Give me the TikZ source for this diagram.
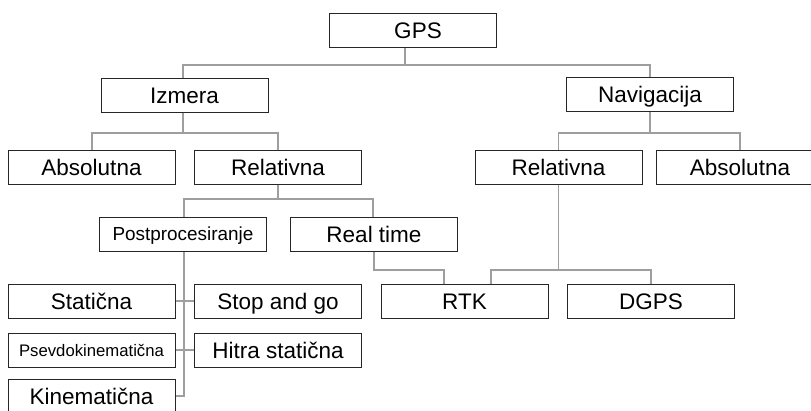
\documentclass[tikz,border=0pt]{standalone}
\usepackage{fontspec}
\setmainfont{Liberation Sans}
\begin{document}
\begin{tikzpicture}[x=1pt,y=-1pt,
  box/.style={draw=black!85,line width=1pt,minimum width=167pt,minimum height=34pt,
    inner sep=0pt,text height=16pt,text depth=0pt,font=\fontsize{22.5}{27}\selectfont},
  conn/.style={draw=black!38,line width=1.1pt}]
\useasboundingbox (0,0) rectangle (811,410);
\node[box] (GPS) at (412.5,30) {\hspace{11pt}GPS};
\node[box] (Izm) at (184.5,95) {Izmera};
\node[box] (Nav) at (650,94.5) {Navigacija\hspace{19pt}};
\node[box] (AbsL) at (91.5,167) {Absolutna};
\node[box] (RelL) at (278,167) {Relativna};
\node[box] (RelR) at (558.5,167) {Relativna};
\node[box] (AbsR) at (740,167) {Absolutna};
\node[box,font=\fontsize{18.9}{22}\selectfont,text height=13.5pt] (Post) at (183,234) {Postprocesiranje};
\node[box] (Real) at (374,234) {Real time};
\node[box] (Stat) at (91.5,301) {Statična};
\node[box] (Stop) at (278,301) {Stop and go};
\node[box] (RTK) at (464.5,301) {RTK};
\node[box] (DGPS) at (651,301) {DGPS};
\node[box,font=\fontsize{16.7}{20}\selectfont,text height=12pt] (Psev) at (91.5,350) {Psevdokinematična};
\node[box] (Hit) at (278,350) {Hitra statična};
\node[box] (Kin) at (91.5,396) {Kinematična};
% connectors
\coordinate (b1) at (405,65);
\draw[conn] (b1 |- GPS.south) -- (b1);
\draw[conn] (Izm.north -| 183,0) |- (b1) -| (Nav.north);
\coordinate (b2) at (183,133);
\draw[conn] (b2 |- Izm.south) -- (b2);
\draw[conn] ([xshift=0.5pt]AbsL.north) |- (b2) -| (RelL.north);
\coordinate (b3) at (650,133);
\draw[conn] (Nav.south) -- (b3);
\draw[conn] (RelR.north) |- (b3) -| (AbsR.north);
\coordinate (b4) at (278,199);
\draw[conn] (RelL.south) -- (b4);
\draw[conn] ([xshift=1pt]Post.north) |- (b4) -| ([xshift=-1pt]Real.north);
\draw[conn] ([xshift=1pt]Post.south) |- (Kin.east);
\draw[conn] (Stat.east) -- (Stop.west);
\draw[conn] (Psev.east) -- (Hit.west);
\coordinate (b5) at (444,270);
\draw[conn] (Real.south) |- (b5) -- (b5 |- RTK.north);
\coordinate (b6) at (558.5,270);
\draw[conn] (RelR.south) -- (b6);
\draw[conn] ([xshift=26.5pt]RTK.north) |- (b6) -| (DGPS.north);
\end{tikzpicture}
\end{document}
